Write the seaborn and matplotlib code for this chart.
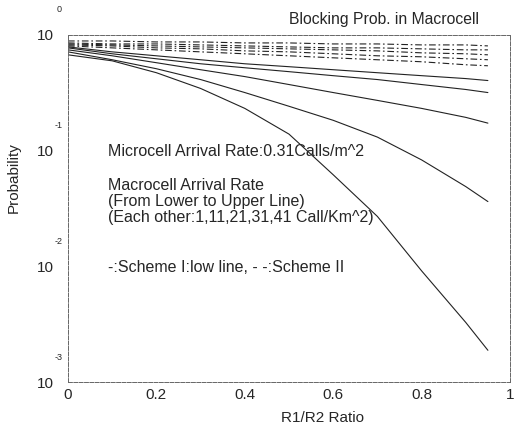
import numpy as np
import pandas as pd
import matplotlib
matplotlib.use("Agg")
import matplotlib.pyplot as plt
import matplotlib.transforms as mtransforms
import seaborn as sns

# R1/R2 ratio sample points
ratio = [0.0, 0.1, 0.2, 0.3, 0.4, 0.5, 0.6, 0.7, 0.8, 0.9, 0.95]

# Macrocell arrival rates (Call/Km^2)
rates = [1, 11, 21, 31, 41]

# Blocking probability, Scheme I (solid)
scheme1_rate1 = [0.674, 0.598, 0.472, 0.345, 0.232, 0.139, 0.0619, 0.0270, 0.00914, 0.00327, 0.00188]
scheme1_rate11 = [0.715, 0.611, 0.511, 0.412, 0.318, 0.242, 0.183, 0.131, 0.0832, 0.0489, 0.0363]
scheme1_rate21 = [0.744, 0.661, 0.576, 0.501, 0.437, 0.373, 0.318, 0.272, 0.232, 0.194, 0.173]
scheme1_rate31 = [0.774, 0.688, 0.623, 0.564, 0.521, 0.482, 0.445, 0.412, 0.373, 0.338, 0.318]
scheme1_rate41 = [0.789, 0.715, 0.661, 0.611, 0.564, 0.532, 0.501, 0.472, 0.445, 0.420, 0.404]

# Blocking probability, Scheme II (dash-dot)
scheme2_rate1 = [0.805, 0.774, 0.744, 0.715, 0.688, 0.661, 0.635, 0.611, 0.587, 0.553, 0.542]
scheme2_rate11 = [0.821, 0.805, 0.774, 0.759, 0.729, 0.715, 0.688, 0.661, 0.648, 0.623, 0.611]
scheme2_rate21 = [0.837, 0.821, 0.805, 0.789, 0.774, 0.759, 0.744, 0.729, 0.701, 0.688, 0.674]
scheme2_rate31 = [0.854, 0.837, 0.837, 0.821, 0.805, 0.789, 0.774, 0.774, 0.759, 0.744, 0.744]
scheme2_rate41 = [0.888, 0.888, 0.871, 0.871, 0.854, 0.854, 0.837, 0.837, 0.821, 0.821, 0.805]

scheme1 = [scheme1_rate1, scheme1_rate11, scheme1_rate21, scheme1_rate31, scheme1_rate41]
scheme2 = [scheme2_rate1, scheme2_rate11, scheme2_rate21, scheme2_rate31, scheme2_rate41]

x_ticks = [0, 0.2, 0.4, 0.6, 0.8, 1]
x_tick_labels = ["0", "0.2", "0.4", "0.6", "0.8", "1"]
y_ticks = [1, 1e-1, 1e-2, 1e-3]
y_exponents = ["0", "-1", "-2", "-3"]

rows = []
for name, series in (("I", scheme1), ("II", scheme2)):
    for rate, vals in zip(rates, series):
        for r, p in zip(ratio, vals):
            rows.append({"ratio": r, "prob": p, "rate": rate, "scheme": name})
df = pd.DataFrame(rows)

sns.set_style("white")
plt.rcParams["font.family"] = ["Liberation Sans", "DejaVu Sans"]

fig = plt.figure(figsize=(5.15, 4.25), dpi=100)
ax = fig.add_axes([68 / 515, 1 - 382 / 425, 442 / 515, 347 / 425])

sns.lineplot(
    data=df, x="ratio", y="prob", hue="rate", style="scheme",
    palette=["#222222"] * len(rates),
    dashes={"I": "", "II": (6, 2.5, 1.5, 2.5)},
    linewidth=0.8, legend=False, ax=ax,
)

ax.set_yscale("log")
ax.set_xlim(0, 1)
ax.set_ylim(1e-3, 1)

ax.set_xticks(x_ticks)
ax.set_xticklabels(x_tick_labels, fontsize=11)
ax.set_yticks(y_ticks)
ax.set_yticklabels(["10"] * len(y_ticks), fontsize=11)
ax.yaxis.set_minor_locator(matplotlib.ticker.NullLocator())
ax.tick_params(axis="x", direction="in", length=3, pad=4, color="#555555")
ax.tick_params(axis="y", direction="in", length=3, pad=10.5, color="#555555")

# Small exponents drawn above and right of each "10"
trans = mtransforms.blended_transform_factory(ax.transAxes, ax.transData)
for yv, ex in zip(y_ticks, y_exponents):
    off = mtransforms.offset_copy(trans, fig=fig, x=-9, y=25, units="dots")
    ax.text(0, yv, ex, transform=off, fontsize=6.5, ha="center", va="center")

for sp in ax.spines.values():
    sp.set_linewidth(0.7)
    sp.set_color("#666666")
    sp.set_linestyle((0, (4, 1.5)))

ax.set_xlabel("R1/R2 Ratio", fontsize=11)
ax.xaxis.set_label_coords(0.575, -0.085)
ax.set_ylabel("Probability", fontsize=11)
ax.yaxis.set_label_coords(-0.108, 0.59)

ax.text(0.93, 1.045, "Blocking Prob. in Macrocell", transform=ax.transAxes,
        ha="right", va="center", fontsize=11.3)

def px(xp, yp):
    return (xp - 68) / 442, (382 - yp) / 347

notes = [
    (152, "Microcell Arrival Rate:0.31Calls/m^2"),
    (186, "Macrocell Arrival Rate"),
    (202, "(From Lower to Upper Line)"),
    (218, "(Each other:1,11,21,31,41 Call/Km^2)"),
    (268, "-:Scheme I:low line, - -:Scheme II"),
]
for yp, s in notes:
    xa, ya = px(108, yp)
    ax.text(xa, ya, s, transform=ax.transAxes, fontsize=11.5,
            ha="left", va="center")

fig.savefig("out.png", dpi=100)
